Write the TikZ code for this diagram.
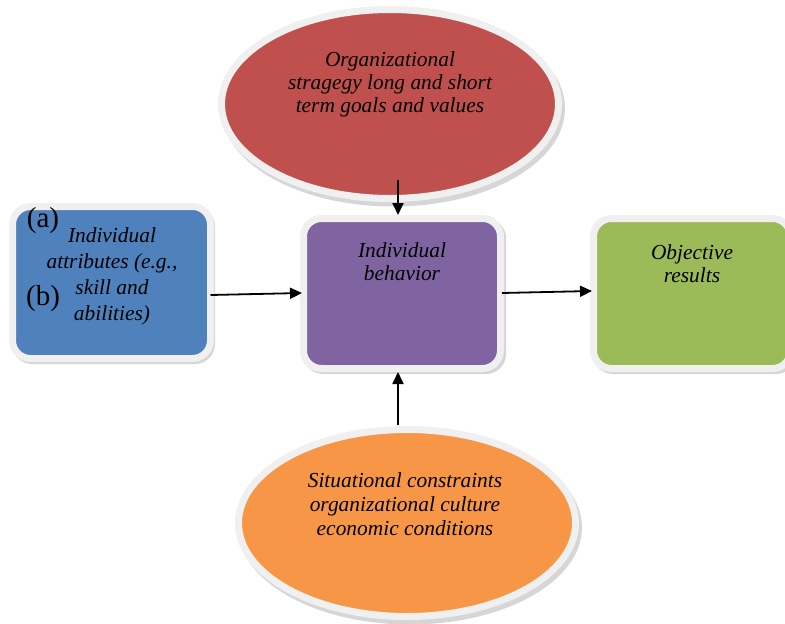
\documentclass[tikz,border=0pt]{standalone}
\usepackage{fontspec}
\setmainfont{Liberation Serif}
\usetikzlibrary{shapes.geometric,arrows.meta,calc}
\definecolor{cred}{HTML}{C0504D}
\definecolor{cblue}{HTML}{4F81BD}
\definecolor{cpurple}{HTML}{8064A2}
\definecolor{cgreen}{HTML}{9BBB59}
\definecolor{corange}{HTML}{F79646}
\definecolor{cborder}{HTML}{F0F0F0}
\tikzset{
  shapebase/.style={draw=cborder, line width=7pt, inner sep=0pt, outer sep=0pt},
  ovalshape/.style={shapebase, ellipse, minimum width=337pt, minimum height=189pt},
  boxshape/.style={shapebase, rectangle, rounded corners=18pt, minimum width=197pt, minimum height=150pt},
  shadowfill/.style={fill=black, fill opacity=0.16},
  label text/.style={font=\itshape\fontsize{21.4}{23}\selectfont, align=center, text=black, inner sep=0pt},
  paren text/.style={font=\fontsize{29}{30}\selectfont, text=black, inner sep=0pt},
  arr/.style={-{Triangle[length=12pt,width=11pt]}, line width=1.8pt, black},
}
\begin{document}
\begin{tikzpicture}[x=1pt,y=-1pt]
\useasboundingbox (0,0) rectangle (785,624);
\clip (0,0) rectangle (785,624);
% shadows
\fill[shadowfill] (393,108.5) ellipse [x radius=172, y radius=98];
\fill[shadowfill] (410,527.5) ellipse [x radius=172, y radius=97];
\fill[shadowfill, rounded corners=20pt] (12,206) rectangle (215,364);
\fill[shadowfill, rounded corners=20pt] (303,218) rectangle (506,374);
\fill[shadowfill, rounded corners=20pt] (593,218) rectangle (796,374);
% shapes
\node[ovalshape, fill=cred] (red) at (390,104) {};
\node[ovalshape, fill=corange, minimum height=187pt] (orange) at (407,523) {};
\node[boxshape, fill=cblue, minimum width=198pt, minimum height=152pt] (blue) at (111.5,282.5) {};
\node[boxshape, fill=cpurple] (purple) at (402,293.5) {};
\node[boxshape, fill=cgreen] (green) at (692,293.5) {};
% texts
\node[label text] (redtext) at (390,84.5) {Organizational\\stragegy long and short\\term goals and values};
\node[label text, font=\itshape\fontsize{21.4}{24}\selectfont] (orangetext) at (405,504) {Situational constraints\\organizational culture\\economic conditions};
\node[label text] (purpletext) at (402,261.5) {Individual\\behavior};
\node[label text] (greentext) at (692,263.5) {Objective\\results};
\node[label text, font=\itshape\fontsize{21.4}{26}\selectfont] (bluetext) at (112,276) {Individual\\attributes (e.g.,\\skill and\\abilities)};
\node[paren text] (pa) at (43,221) {(a)};
\node[paren text] (pb) at (43,299) {(b)};
% connectors
\draw[arr] ([xshift=8pt,yshift=18.5pt]red.south) -- ([xshift=-4pt,yshift=3.5pt]purple.north);
\draw[arr] ([xshift=-9pt,yshift=4.5pt]orange.north) -- ([xshift=-4pt,yshift=-3.5pt]purple.south);
\draw[arr] ([yshift=-12.5pt]blue.east) -- ([xshift=-1.5pt,yshift=0.5pt]purple.west);
\draw[arr] ([xshift=1.5pt,yshift=0.5pt]purple.east) -- ([xshift=-1.5pt,yshift=2.5pt]green.west);
\end{tikzpicture}
\end{document}
